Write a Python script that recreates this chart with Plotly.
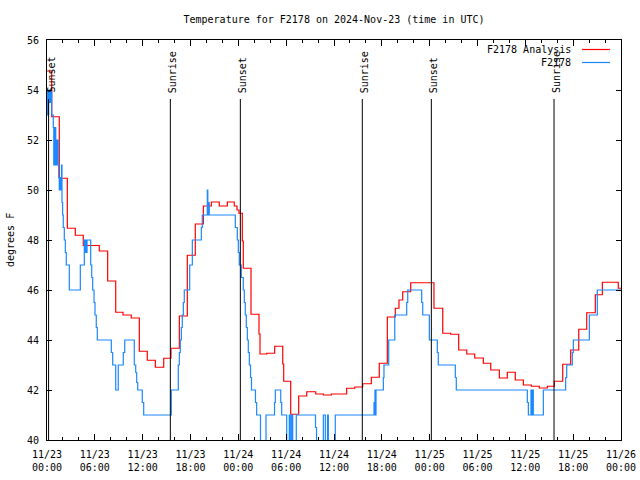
import pandas as pd
import plotly.graph_objects as go

BASE = pd.Timestamp("2024-11-23 00:00")

# Analysis series (hours since 11/23 00:00 UTC, degrees F), step data
analysis_hours = [0, 0.59, 1.54, 2.55, 3.55, 4.55, 6.56, 7.61, 8.62, 9.53, 10.57, 11.58,
                  12.58, 13.59, 14.64, 15.55, 16.6, 17.6, 18.6, 19.61, 20.61, 21.61, 22.62,
                  23.49, 23.83, 24.08, 24.5, 24.62, 25.59, 26.59, 26.72, 27.56, 28.56, 29.57,
                  29.69, 30.57, 31.57, 32.58, 33.71, 34.66, 35.66, 37.59, 38.6, 39.6, 40.68,
                  41.68, 42.69, 43.69, 44.15, 44.62, 45.62, 48.54, 49.64, 50.64, 51.64, 52.65,
                  53.65, 54.73, 55.66, 56.74, 57.74, 58.74, 59.75, 60.75, 61.75, 62.76, 63.64,
                  64.69, 65.69, 66.7, 67.7, 68.78, 69.66, 71.66, 72.0]
analysis_temp = [54.76, 52.93, 50.47, 48.47, 48.19, 47.78, 47.56, 46.36, 45.11, 45.0, 44.88, 43.55,
                 43.19, 42.91, 43.27, 43.67, 44.96, 47.39, 48.64, 49.36, 49.52, 49.36, 49.52,
                 49.36, 49.2, 49.07, 47.96, 46.87, 45.03, 44.24, 43.44, 43.47, 43.75, 43.04,
                 42.35, 41.03, 41.76, 41.93, 41.84, 41.8, 41.84, 42.07, 42.12, 42.25, 42.51,
                 43.07, 44.92, 45.27, 45.6, 45.93, 46.29, 45.27, 44.27, 44.23, 43.6, 43.44,
                 43.28, 43.07, 42.8, 42.48, 42.71, 42.4, 42.2, 42.15, 42.08, 42.15, 42.35,
                 43.03, 43.6, 44.43, 45.09, 45.81, 46.31, 46.07, 46.07]

# Observed series
obs_hours = [0, 0.08, 0.13, 0.2, 0.28, 0.35, 0.43, 0.5, 0.59, 0.79, 0.85, 0.92, 0.98, 1.04,
             1.1, 1.18, 1.25, 1.33, 1.4, 1.47, 1.54, 1.62, 1.69, 1.76, 1.82, 1.88, 1.96, 2.04,
             2.17, 2.3, 2.42, 2.8, 4.18, 4.68, 4.77, 4.85, 4.93, 5.02, 5.48, 5.61, 5.73, 5.9,
             6.02, 6.18, 6.31, 8.07, 8.24, 8.62, 8.94, 9.57, 9.75, 10.95, 11.13, 11.25, 11.38,
             11.95, 12.13, 15.59, 16.47, 16.6, 16.72, 16.85, 16.97, 17.1, 17.22, 17.9, 18.23,
             19.36, 19.48, 20.11, 20.17, 20.26, 20.35, 23.62, 23.87, 24.0, 24.12, 24.37, 24.62,
             24.75, 24.87, 25.0, 25.13, 25.25, 25.38, 25.53, 25.65, 26.15, 26.3, 26.78, 27.47,
             28.54, 28.64, 29.32, 29.44, 30.07, 30.39, 30.52, 30.69, 30.82, 31.27, 33.68, 33.81,
             34.66, 34.91, 35.19, 35.29, 36.16, 41.02, 41.08, 41.14, 41.21, 41.27, 42.19, 42.27,
             42.86, 43.62, 45.12, 45.25, 47.0, 47.13, 47.96, 48.96, 49.08, 51.22, 51.34, 60.25,
             60.38, 60.71, 60.8, 60.88, 61.0, 62.26, 65.06, 65.19, 65.89, 66.02, 68.03, 69.03, 72.0]
obs_temp = [53.0, 54.0, 53.0, 54.0, 53.5, 54.0, 53.5, 54.0, 53.0, 52.5, 51.0, 52.5, 51.0, 52.5,
            51.0, 52.0, 51.0, 52.0, 51.0, 50.5, 50.0, 50.5, 50.0, 50.5, 51.0, 49.5, 49.0, 48.5,
            48.0, 47.5, 47.0, 46.0, 47.0, 48.0, 47.5, 48.0, 47.5, 48.0, 47.0, 46.5, 46.0, 45.5,
            45.0, 44.5, 44.0, 43.5, 43.0, 42.0, 43.0, 43.5, 44.0, 43.0, 42.7, 42.3, 42.0,
            41.5, 41.0, 42.0, 43.0, 43.5, 44.0, 44.5, 45.0, 45.5, 46.0, 47.0, 48.0,
            48.5, 49.0, 50.0, 49.0, 49.5, 49.0, 48.5, 48.0, 47.5, 47.0, 46.5, 46.0,
            45.5, 45.0, 44.5, 44.0, 43.5, 43.0, 42.5, 42.0, 41.5, 41.0, 39.5, 41.0,
            41.5, 42.0, 41.5, 41.0, 39.5, 41.0, 39.5, 41.0, 39.5, 41.0, 40.5, 39.5,
            41.0, 39.5, 41.0, 39.5, 41.0, 41.5, 41.0, 42.0, 41.0, 42.0, 42.5, 43.0,
            44.0, 45.0, 45.5, 46.0, 45.5, 45.0, 44.0, 43.5, 43.0, 42.5, 42.0, 41.5,
            41.0, 42.0, 41.0, 42.0, 41.0, 42.0, 42.5, 43.0, 43.5, 44.0, 45.0, 46.0, 46.0]

# Sun events (hours since start)
sun_hours = [0.2, 15.47, 24.25, 39.55, 48.21, 63.6]
sun_labels = ["Sunset", "Sunrise", "Sunset", "Sunrise", "Sunset", "Sunrise"]

series_names = ["F2178 Analysis", "F2178"]
series_colors = ["#ff0000", "#1a88ff"]

def to_time(hours):
    return [BASE + pd.Timedelta(hours=h) for h in hours]

FONT = "DejaVu Sans Mono"
FIG_W, FIG_H = 640, 480
ML, MR, MT, MB = 47, 19, 40, 40
W = FIG_W - ML - MR   # 574
H = FIG_H - MT - MB   # 400

fig = go.Figure()
fig.add_trace(go.Scatter(x=to_time(analysis_hours), y=analysis_temp, mode="lines",
                         line=dict(color=series_colors[0], width=1.2, shape="hv"),
                         name=series_names[0], showlegend=False))
fig.add_trace(go.Scatter(x=to_time(obs_hours), y=obs_temp, mode="lines",
                         line=dict(color=series_colors[1], width=1.2, shape="hv"),
                         name=series_names[1], showlegend=False))

label_top = 53.80
line_top = 53.64
for h, lab in zip(sun_hours, sun_labels):
    t = BASE + pd.Timedelta(hours=h)
    fig.add_shape(type="line", xref="x", yref="y", x0=t, x1=t, y0=40, y1=line_top,
                  line=dict(color="black", width=1))
    fig.add_annotation(x=t, y=label_top, xref="x", yref="y", text=lab, textangle=-90,
                       showarrow=False, xanchor="center", yanchor="bottom", xshift=2,
                       font=dict(family=FONT, size=10, color="black"))

# legend (gnuplot style: text right, sample at right); positions relative to plot area
leg_rows_y = [9.5, 22.5]   # px below plot top
for name, col, py in zip(series_names, series_colors, leg_rows_y):
    yp = 1 - py / H
    fig.add_annotation(x=526 / W, y=yp, xref="paper", yref="paper", text=name,
                       showarrow=False, xanchor="right", yanchor="middle",
                       font=dict(family=FONT, size=10, color="black"))
    fig.add_shape(type="line", xref="paper", yref="paper", x0=535 / W, x1=563 / W,
                  y0=yp, y1=yp, line=dict(color=col, width=1.2))

fig.add_annotation(x=-37 / W, y=0.5, xref="paper", yref="paper", text="degrees F",
                   textangle=-90, showarrow=False, xanchor="center", yanchor="middle",
                   font=dict(family=FONT, size=10, color="black"))

fig.update_layout(
    width=FIG_W, height=FIG_H,
    margin=dict(l=ML, r=MR, t=MT, b=MB),
    paper_bgcolor="white", plot_bgcolor="white",
    font=dict(family=FONT, size=10, color="black"),
    title=dict(text="Temperature for F2178 on 2024-Nov-23 (time in UTC)", x=0.5, xref="paper",
               y=1 - 19 / FIG_H, yanchor="middle", font=dict(family=FONT, size=10, color="black")),
    showlegend=False,
)
fig.update_xaxes(
    type="date", automargin=False,
    range=[BASE, BASE + pd.Timedelta(hours=72)],
    dtick=6 * 3600 * 1000, tick0=BASE,
    tickformat="%m/%d<br>%H:%M",
    ticks="inside", ticklen=6, tickcolor="black",
    minor=dict(dtick=2 * 3600 * 1000, ticks="inside", ticklen=3, tickcolor="black"),
    showline=True, linecolor="black", linewidth=1, mirror="ticks",
    showgrid=False, zeroline=False,
    ticklabelstandoff=5,
    tickfont=dict(family=FONT, size=10, color="black"),
)
fig.update_yaxes(
    range=[40, 56], dtick=2, automargin=False,
    ticks="inside", ticklen=5, tickcolor="black",
    showline=True, linecolor="black", linewidth=1, mirror="ticks",
    showgrid=False, zeroline=False,
    ticklabelstandoff=5,
    tickfont=dict(family=FONT, size=10, color="black"),
)

fig.write_html("out.html", config={"displayModeBar": False},
               post_script="document.body.style.margin='0';document.body.style.overflow='hidden';")
